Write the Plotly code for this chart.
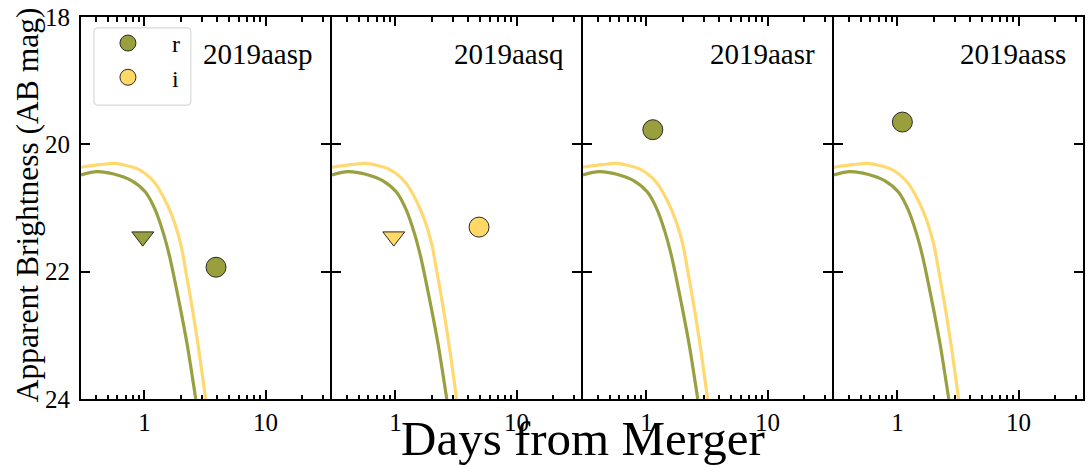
import plotly.graph_objects as go
import math

# ---------------- data ----------------
panel_names = ["2019aasp", "2019aasq", "2019aasr", "2019aass"]

# kilonova model light curves (identical in every panel)
model_r_days = [0.30, 0.406, 0.569, 0.784, 1.019, 1.229, 1.442, 1.614, 1.773, 2.002, 2.262, 2.654]
model_r_mag = [20.48, 20.43, 20.47, 20.57, 20.75, 21.03, 21.41, 21.76, 22.12, 22.62, 23.16, 24.0]
model_i_days = [0.30, 0.430, 0.573, 0.888, 1.213, 1.511, 1.766, 2.002, 2.199, 2.508, 2.834, 3.201]
model_i_mag = [20.36, 20.32, 20.30, 20.39, 20.60, 20.91, 21.22, 21.58, 22.0, 22.62, 23.27, 24.0]

# observations per panel
r_det_days = [[3.9], [], [1.13], [1.10]]
r_det_mag = [[21.93], [], [19.77], [19.65]]
r_lim_days = [[0.97], [], [], []]
r_lim_mag = [[21.45], [], [], []]
i_det_days = [[], [4.9], [], []]
i_det_mag = [[], [21.30], [], []]
i_lim_days = [[], [0.97], [], []]
i_lim_mag = [[], [21.45], [], []]

x_tickvals = [1, 10]
x_minor_vals = [0.4, 0.5, 0.6, 0.7, 0.8, 0.9, 2, 3, 4, 5, 6, 7, 8, 9, 20, 30]
y_tickvals = [18, 20, 22, 24]

# ---------------- style ----------------
R_COLOR = "#9a9f3d"
I_COLOR = "#ffd866"
R_LINE = "#98a040"
I_LINE = "#ffd970"
EDGE = "#2a2a2a"
FONT = "Liberation Serif, Times New Roman, serif"
W, H = 1089, 467
ML, MR, MT, MB = 81, 4, 13, 68
PW = W - ML - MR
PH = H - MT - MB
GAP = 2 / PW
PANEL_W = (1 - 3 * GAP) / 4

fig = go.Figure()

for k in range(4):
    xa = "x" if k == 0 else f"x{k+1}"
    ya = "y" if k == 0 else f"y{k+1}"
    fig.add_trace(go.Scatter(x=model_r_days, y=model_r_mag, mode="lines",
                             line=dict(color=R_LINE, width=3.2, shape="spline", smoothing=0.8),
                             xaxis=xa, yaxis=ya, showlegend=False, hoverinfo="skip"))
    fig.add_trace(go.Scatter(x=model_i_days, y=model_i_mag, mode="lines",
                             line=dict(color=I_LINE, width=3.2, shape="spline", smoothing=0.8),
                             xaxis=xa, yaxis=ya, showlegend=False, hoverinfo="skip"))
    if r_lim_days[k]:
        fig.add_trace(go.Scatter(x=r_lim_days[k], y=r_lim_mag[k], mode="markers",
                                 marker=dict(symbol="triangle-down", size=19, color=R_COLOR,
                                             line=dict(color=EDGE, width=1)),
                                 xaxis=xa, yaxis=ya, showlegend=False))
    if i_lim_days[k]:
        fig.add_trace(go.Scatter(x=i_lim_days[k], y=i_lim_mag[k], mode="markers",
                                 marker=dict(symbol="triangle-down", size=19, color=I_COLOR,
                                             line=dict(color=EDGE, width=1)),
                                 xaxis=xa, yaxis=ya, showlegend=False))
    if r_det_days[k]:
        fig.add_trace(go.Scatter(x=r_det_days[k], y=r_det_mag[k], mode="markers",
                                 name="\u00a0\u00a0\u00a0\u00a0r",
                                 marker=dict(symbol="circle", size=20, color=R_COLOR,
                                             line=dict(color=EDGE, width=1)),
                                 xaxis=xa, yaxis=ya, showlegend=(k == 0), legendrank=1))
    if i_det_days[k]:
        fig.add_trace(go.Scatter(x=i_det_days[k], y=i_det_mag[k], mode="markers",
                                 name="\u00a0\u00a0\u00a0\u00a0i",
                                 marker=dict(symbol="circle", size=20, color=I_COLOR,
                                             line=dict(color=EDGE, width=1)),
                                 xaxis=xa, yaxis=ya, showlegend=True, legendrank=2))

layout = dict(
    width=W, height=H,
    margin=dict(l=ML, r=MR, t=MT, b=MB),
    plot_bgcolor="white", paper_bgcolor="white",
    font=dict(family=FONT, size=25, color="black"),
    showlegend=True,
    legend=dict(x=(108 - ML) / PW, y=1 - (17 - MT) / PH, xanchor="left", yanchor="top",
                bgcolor="rgba(0,0,0,0)", borderwidth=0,
                font=dict(family=FONT, size=24, color="black"),
                traceorder="normal"),
)

for k in range(4):
    xkey = "xaxis" if k == 0 else f"xaxis{k+1}"
    ykey = "yaxis" if k == 0 else f"yaxis{k+1}"
    d0 = k * (PANEL_W + GAP)
    layout[xkey] = dict(
        type="log", range=[math.log10(0.3), math.log10(34)],
        domain=[d0, min(1.0, d0 + PANEL_W)], anchor="y" if k == 0 else f"y{k+1}",
        tickvals=x_tickvals, ticktext=[str(v) for v in x_tickvals],
        ticks="inside", ticklen=9, tickwidth=2, tickcolor="black",
        minor=dict(tickvals=x_minor_vals, ticks="inside", ticklen=4.5, tickwidth=1.8,
                   tickcolor="black", showgrid=False),
        showline=True, linewidth=2, linecolor="black", mirror="allticks",
        showgrid=False, zeroline=False,
        tickfont=dict(family=FONT, size=25),
    )
    layout[ykey] = dict(
        range=[24, 18], domain=[0, 1], anchor="x" if k == 0 else f"x{k+1}",
        tickvals=y_tickvals, ticktext=[str(v) for v in y_tickvals],
        showticklabels=(k == 0),
        ticks="inside", ticklen=9, tickwidth=2, tickcolor="black",
        showline=True, linewidth=2, linecolor="black", mirror="allticks",
        showgrid=False, zeroline=False,
        tickfont=dict(family=FONT, size=25),
        ticklabelstandoff=4, ticklabeloverflow="allow",
    )

fig.update_layout(**layout)

# panel labels
for k, nm in enumerate(panel_names):
    xref = "x domain" if k == 0 else f"x{k+1} domain"
    yref = "y domain" if k == 0 else f"y{k+1} domain"
    fig.add_annotation(text=nm, xref=xref, yref=yref, x=1, y=1 - (50 - MT) / PH,
                       xanchor="right", yanchor="middle", xshift=-15, showarrow=False,
                       font=dict(family=FONT, size=29, color="black"))

# axis titles
fig.add_annotation(text="Days from Merger", xref="paper", yref="paper",
                   x=(584 - ML) / PW, y=-(439 - MT - PH) / PH, xanchor="center", yanchor="middle",
                   showarrow=False, font=dict(family=FONT, size=49, color="black"))
fig.add_annotation(text="Apparent Brightness (AB mag)", xref="paper", yref="paper",
                   x=(27 - ML) / PW, y=1 - (203 - MT) / PH, xanchor="center", yanchor="middle",
                   textangle=-90, showarrow=False, font=dict(family=FONT, size=31.5, color="black"))

# legend frame (rounded rectangle)
x0, x1 = (94 - ML) / PW, (191 - ML) / PW
y0, y1 = 1 - (102 - MT) / PH, 1 - (24 - MT) / PH
rx, ry = 4 / PW, 4 / PH
path = (f"M {x0+rx},{y1} L {x1-rx},{y1} Q {x1},{y1} {x1},{y1-ry} L {x1},{y0+ry} "
        f"Q {x1},{y0} {x1-rx},{y0} L {x0+rx},{y0} Q {x0},{y0} {x0},{y0+ry} "
        f"L {x0},{y1-ry} Q {x0},{y1} {x0+rx},{y1} Z")
fig.add_shape(type="path", path=path, xref="paper", yref="paper",
              line=dict(color="#d9d9d9", width=1.2), fillcolor="rgba(255,255,255,0.8)",
              layer="below")

fig.write_html("out.html", config={"displayModeBar": False},
               post_script="document.body.style.margin='0px';document.body.style.overflow='hidden';")
